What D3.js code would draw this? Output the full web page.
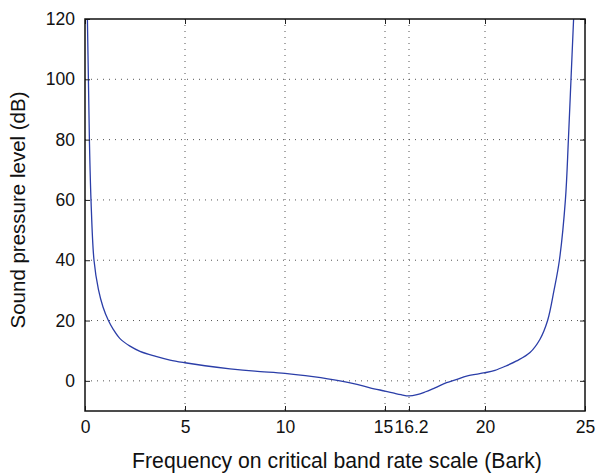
<!DOCTYPE html>
<html><head><meta charset="utf-8">
<script src="https://cdn.jsdelivr.net/npm/d3@7"></script>
<style>body{margin:0;background:#fff}svg{display:block}text{font-family:"Liberation Sans",Arial,Helvetica,sans-serif;fill:#111}</style>
</head><body>
<svg id="c" width="597" height="473"></svg>
<script>
const barkValues = [0.12,0.17,0.22,0.3,0.45,0.67,0.9,1.17,1.42,1.75,2.25,2.75,3.5,4.25,5,6,7.25,8.5,10,11.4,12.75,13.6,14.25,15,15.4,15.8,16.2,16.6,17.0,17.5,18.08,18.6,19.08,20,20.5,21,21.58,22.25,22.75,23.13,23.45,23.72,24.02,24.17,24.3,24.43];
const splValues  = [120,100,80,60,40,30.3,24.5,20,17,14,11.5,9.8,8.2,6.9,6.0,5.0,4.0,3.2,2.5,1.4,0,-1.2,-2.3,-3.4,-4.0,-4.6,-5.0,-4.6,-3.7,-2.3,-0.6,0.5,1.6,2.7,3.5,4.8,6.6,9.4,13.8,20,30,40,60,80,100,120];
const xTicks = [0,5,10,15,16.2,20,25];
const yTicks = [0,20,40,60,80,100,120];
const xLabel = "Frequency on critical band rate scale (Bark)";
const yLabel = "Sound pressure level (dB)";

const svg = d3.select("#c");
const L=85,R=585,T=19,B=411;
const x = d3.scaleLinear().domain([0,25]).range([L,R]);
const y = d3.scaleLinear().domain([-10,120]).range([B,T]);

const g = svg.append("g");
// grid
g.selectAll(".gx").data(xTicks.filter(d=>d>0&&d<25)).join("line")
  .attr("x1",d=>x(d)).attr("x2",d=>x(d)).attr("y1",T).attr("y2",B)
  .attr("stroke","#555").attr("stroke-width",1).attr("stroke-dasharray","1,5");
g.selectAll(".gy").data(yTicks.filter(d=>d<120)).join("line")
  .attr("y1",d=>y(d)).attr("y2",d=>y(d)).attr("x1",L).attr("x2",R)
  .attr("stroke","#555").attr("stroke-width",1).attr("stroke-dasharray","1,5");

// curve
const pts = barkValues.map((b,i)=>[b,splValues[i]]);
svg.append("defs").append("clipPath").attr("id","cp").append("rect")
  .attr("x",L).attr("y",T).attr("width",R-L).attr("height",B-T);
svg.append("path").datum(pts).attr("clip-path","url(#cp)")
  .attr("d",d3.line().x(d=>x(d[0])).y(d=>y(d[1])).curve(d3.curveCatmullRom.alpha(0.5)))
  .attr("fill","none").attr("stroke","#2b3ea8").attr("stroke-width",1.3);

// axes with inward ticks
const ax = d3.axisBottom(x).tickValues(xTicks).tickSize(-5).tickPadding(10).tickFormat(d=>d3.format("~g")(d));
const gx = svg.append("g").attr("transform",`translate(0,${B})`).call(ax);
const axT = d3.axisTop(x).tickValues(xTicks).tickSize(-5).tickFormat("");
svg.append("g").attr("transform",`translate(0,${T})`).call(axT);
const ay = d3.axisLeft(y).tickValues(yTicks).tickSize(-5).tickPadding(10);
svg.append("g").attr("transform",`translate(${L},0)`).call(ay);
const ayR = d3.axisRight(y).tickValues(yTicks).tickSize(-5).tickFormat("");
svg.append("g").attr("transform",`translate(${R},0)`).call(ayR);
svg.selectAll(".domain").remove();
svg.selectAll(".tick line").attr("stroke","#222").attr("stroke-width",1);
svg.selectAll(".tick text").attr("font-size",17.5).attr("fill","#111")
  .style("font-family",'"Liberation Sans",Arial,sans-serif');
gx.selectAll(".tick text").attr("dx",d=>d===15?-2:(d===16.2?2:0));
// box
svg.append("rect").attr("x",L).attr("y",T).attr("width",R-L).attr("height",B-T)
  .attr("fill","none").attr("stroke","#111").attr("stroke-width",1.5);

svg.append("text").attr("x",337).attr("y",468).attr("text-anchor","middle")
  .attr("font-size",21.2).text(xLabel);
svg.append("text").attr("transform",`translate(25,210) rotate(-90)`)
  .attr("text-anchor","middle").attr("font-size",20.5).text(yLabel);
</script>
</body></html>
